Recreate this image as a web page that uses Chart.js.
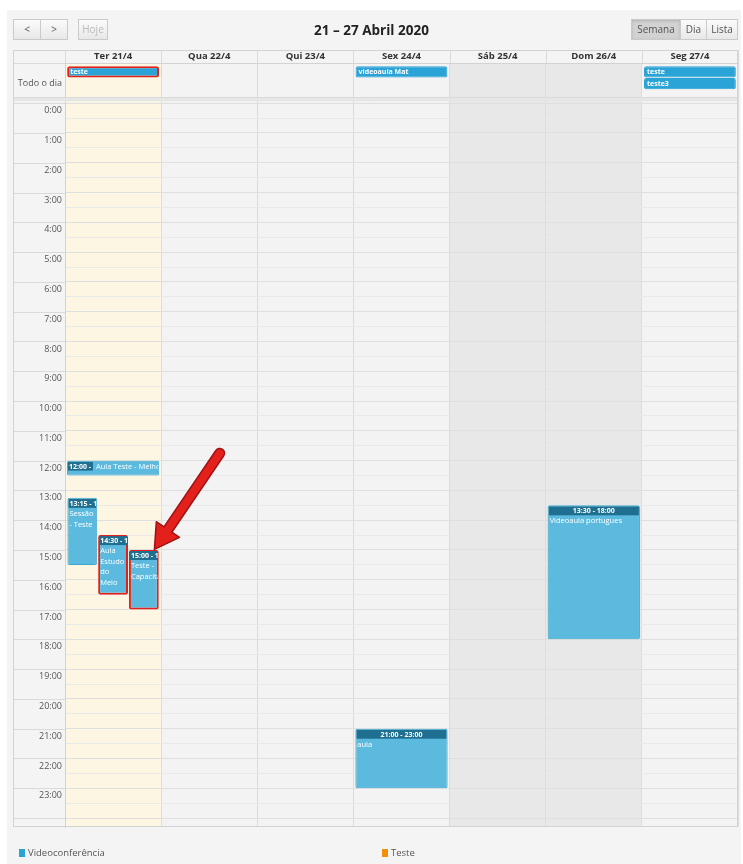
<!DOCTYPE html>
<html lang="pt">
<head>
<meta charset="utf-8">
<script src="https://cdn.jsdelivr.net/npm/chart.js@4.4.1/dist/chart.umd.min.js"></script>
<style>
  html, body { margin: 0; padding: 0; background: #fff; }
  body { width: 743px; height: 864px; position: relative; overflow: hidden; font-family: "Open Sans", sans-serif; }
  #panel { position: absolute; left: 7px; top: 10px; right: 2px; bottom: 0; background: #f4f4f4; }
  #agenda { position: absolute; left: 0; top: 0; }
  .btn { position: absolute; top: 19px; height: 21px; box-sizing: border-box; border: 1px solid #cacaca;
         background: linear-gradient(#fbfbfb, #e8e8e8); font-size: 10px; color: #555; line-height: 19px; text-align: center; }
  .btn.off { color: #bbb; }
  .btn.on { background: #d2d2d2; box-shadow: inset 0 1px 3px rgba(0,0,0,.15); }
  #titulo { position: absolute; top: 19px; left: 0; width: 743px; text-align: center; font-weight: bold; font-size: 13.5px; color: #222; line-height: 22px; }
  .leg { position: absolute; top: 846px; font-size: 9.5px; color: #555; line-height: 14px; }
  .leg i { display: inline-block; width: 6px; height: 8px; margin-right: 3px; vertical-align: -1px; }
</style>
</head>
<body>
<div id="panel"></div>
<canvas id="agenda" width="743" height="864"></canvas>
<div class="btn" style="left:13px;width:28px;">&lt;</div>
<div class="btn" style="left:40px;width:28px;">&gt;</div>
<div class="btn off" style="left:78px;width:30px;">Hoje</div>
<div id="titulo">21 – 27 Abril 2020</div>
<div class="btn on" style="left:631px;width:50px;">Semana</div>
<div class="btn" style="left:680px;width:27px;">Dia</div>
<div class="btn" style="left:706px;width:32px;">Lista</div>
<div class="leg" style="left:19px;"><i style="background:#2aa3d6"></i>Videoconferência</div>
<div class="leg" style="left:382px;"><i style="background:#f0900c"></i>Teste</div>
<script>
// dias da semana (colunas)
const days = ["Ter 21/4", "Qua 22/4", "Qui 23/4", "Sex 24/4", "Sáb 25/4", "Dom 26/4", "Seg 27/4"];
const today = "Ter 21/4";
const weekend = ["Sáb 25/4", "Dom 26/4"];

// rótulos das horas
const hourLabels = ["0:00", "1:00", "2:00", "3:00", "4:00", "5:00", "6:00", "7:00", "8:00", "9:00", "10:00", "11:00",
  "12:00", "13:00", "14:00", "15:00", "16:00", "17:00", "18:00", "19:00", "20:00", "21:00", "22:00", "23:00"];
const allDayLabel = "Todo o dia";

// eventos com horário
const eventDays = ["Ter 21/4", "Ter 21/4", "Ter 21/4", "Ter 21/4", "Sex 24/4", "Dom 26/4"];
const eventStarts = [12, 13.25, 14.5, 15, 21, 13.5];
const eventEnds = [12.5, 15.5, 16.5, 17, 23, 18];
const eventTitles = ["Aula Teste - Melhoria", "Sessão - Teste", "Aula Estudo do Meio", "Teste - Capacitação", "aula", "Videoaula portugues"];
const eventLanes = [null, 0, 1, 2, null, null]; // coluna dentro do dia quando há sobreposição
const eventMarked = [false, false, true, true, false, false];

// eventos de dia inteiro
const allDayDays = ["Ter 21/4", "Sex 24/4", "Seg 27/4", "Seg 27/4"];
const allDayTitles = ["teste", "videoaula Mat", "teste", "teste3"];
const allDayRows = [0, 0, 0, 1];
const allDayMarked = [true, false, false, false];

// seta vermelha (em coordenadas do gráfico)
const arrowFrom = { x: 1.11, y: 11.75 };
const arrowTo = { x: 0.43, y: 14.98 };

const RED = "#e3201b";
const fmt = h => Math.floor(h) + ":" + String(Math.round((h % 1) * 60)).padStart(2, "0");

const allDayData = allDayDays.map((d, i) => ({
  x: d, y: [-1.24 + allDayRows[i] * 0.39, -0.86 + allDayRows[i] * 0.39], i
}));
const fullData = [];
const laneData = [[], [], []];
eventDays.forEach((d, i) => {
  const p = { x: d, y: [eventStarts[i], eventEnds[i]], i };
  if (eventLanes[i] === null) fullData.push(p); else laneData[eventLanes[i]].push(p);
});

const hourTicks = hourLabels.map((l, h) => h);
const tickValues = [-0.93];
for (let h = 0; h <= 24; h += 0.5) tickValues.push(h);

const timedStyle = {
  backgroundColor: "#5bbade",
  borderColor: c => eventMarked[c.raw.i] ? RED : "#3ea6cf",
  borderWidth: c => eventMarked[c.raw.i] ? 2 : 1,
  borderSkipped: false,
  borderRadius: 2,
  kind: "timed"
};

// fundo das colunas, divisórias e moldura
const calendarBg = {
  id: "calendarBg",
  beforeDraw(chart) {
    const { ctx, chartArea: a, scales: { x } } = chart;
    const half = (x.getPixelForValue(1) - x.getPixelForValue(0)) / 2;
    ctx.save();
    ctx.fillStyle = "#f3f3f3";
    ctx.fillRect(a.left, a.top, a.right - a.left, a.bottom - a.top);
    days.forEach((d, i) => {
      let col = null;
      if (d === today) col = "#fcf6e2";
      if (weekend.includes(d)) col = "#e8e8e8";
      if (!col) return;
      const cx = x.getPixelForValue(i);
      ctx.fillStyle = col;
      ctx.fillRect(cx - half, a.top, half * 2, a.bottom - a.top);
    });
    ctx.restore();
  },
  beforeDatasetsDraw(chart) {
    const { ctx, chartArea: a, scales: { x, y } } = chart;
    const frameLeft = 13, frameTop = 50;
    ctx.save();
    // divisória entre "Todo o dia" e grade horária
    const y0 = y.getPixelForValue(0);
    ctx.fillStyle = "#e6e6e6";
    ctx.fillRect(frameLeft, y0 - 6, a.right - frameLeft, 4);
    ctx.strokeStyle = "#dadada";
    ctx.lineWidth = 1;
    ctx.beginPath();
    ctx.moveTo(frameLeft, Math.round(y0 - 6) + 0.5); ctx.lineTo(a.right, Math.round(y0 - 6) + 0.5);
    // linhas das horas na coluna dos rótulos
    hourTicks.concat([24]).forEach(h => {
      const py = Math.round(y.getPixelForValue(h)) + 0.5;
      ctx.moveTo(frameLeft, py); ctx.lineTo(a.left, py);
    });
    ctx.moveTo(frameLeft, a.top + 0.5); ctx.lineTo(a.left, a.top + 0.5);
    // separadores do cabeçalho
    const half = (x.getPixelForValue(1) - x.getPixelForValue(0)) / 2;
    days.forEach((d, i) => {
      const px = Math.round(x.getPixelForValue(i) + half) + 0.5;
      ctx.moveTo(px, frameTop); ctx.lineTo(px, a.top);
    });
    ctx.moveTo(a.left + 0.5, frameTop); ctx.lineTo(a.left + 0.5, a.top);
    ctx.stroke();
    // moldura
    ctx.strokeStyle = "#d3d3d3";
    ctx.strokeRect(frameLeft + 0.5, frameTop + 0.5, a.right - frameLeft - 1, a.bottom - frameTop - 1);
    ctx.restore();
  }
};

function wrapLines(ctx, text, maxW) {
  const words = text.split(" ");
  const lines = [];
  let cur = "";
  words.forEach(w => {
    const t = cur ? cur + " " + w : w;
    if (ctx.measureText(t).width <= maxW || !cur) cur = t;
    else { lines.push(cur); cur = w; }
  });
  if (cur) lines.push(cur);
  return lines;
}

// textos dos eventos e seta
const eventText = {
  id: "eventText",
  afterDatasetsDraw(chart) {
    const { ctx, scales: { x, y } } = chart;
    ctx.save();
    chart.data.datasets.forEach((ds, di) => {
      const meta = chart.getDatasetMeta(di);
      meta.data.forEach((el, j) => {
        const raw = ds.data[j];
        const p = el.getProps(["x", "y", "base", "width"], true);
        const left = p.x - p.width / 2, w = p.width;
        const top = Math.min(p.y, p.base), bottom = Math.max(p.y, p.base);
        ctx.save();
        ctx.beginPath();
        ctx.rect(left + 1, top + 1, w - 2, bottom - top - 2);
        ctx.clip();
        ctx.fillStyle = "#fff";
        ctx.textBaseline = "middle";
        if (ds.kind === "allday") {
          ctx.font = "bold 7px 'Open Sans'";
          ctx.fillText(allDayTitles[raw.i], left + 3, (top + bottom) / 2 + 0.5);
        } else {
          const i = raw.i;
          const h = bottom - top;
          ctx.font = "bold 7px 'Open Sans'";
          if (h < 20) {
            const t = fmt(eventStarts[i]) + " -";
            const tw = ctx.measureText(t).width + 3;
            ctx.fillStyle = "#1f6f90";
            ctx.fillRect(left + 1, top + 1, tw, 9);
            ctx.fillStyle = "#fff";
            ctx.fillText(t, left + 2, top + 6);
            ctx.font = "7.5px 'Open Sans'";
            ctx.fillText(eventTitles[i], left + tw + 4, top + 6);
          } else {
            const t = fmt(eventStarts[i]) + " - " + fmt(eventEnds[i]);
            ctx.fillStyle = "#1f6f90";
            ctx.fillRect(left + 1, top + 1, w - 2, 9);
            ctx.fillStyle = "#fff";
            const tw = ctx.measureText(t).width;
            ctx.fillText(t, tw < w - 6 ? p.x - tw / 2 : left + 2, top + 6);
            ctx.font = "7.5px 'Open Sans'";
            wrapLines(ctx, eventTitles[i], w - 4).forEach((ln, k) => {
              ctx.fillText(ln, left + 2, top + 16 + k * 10.5);
            });
          }
        }
        ctx.restore();
      });
    });

    // seta
    const x1 = x.getPixelForValue(arrowFrom.x), y1 = y.getPixelForValue(arrowFrom.y);
    const x2 = x.getPixelForValue(arrowTo.x), y2 = y.getPixelForValue(arrowTo.y);
    const ang = Math.atan2(y2 - y1, x2 - x1);
    const headLen = 24, headW = 14;
    const bx = x2 - Math.cos(ang) * headLen, by = y2 - Math.sin(ang) * headLen;
    const nx = -Math.sin(ang), ny = Math.cos(ang);
    ctx.lineCap = "round";
    ctx.strokeStyle = "#a01212";
    ctx.lineWidth = 11;
    ctx.beginPath(); ctx.moveTo(x1, y1); ctx.lineTo(bx, by); ctx.stroke();
    ctx.beginPath();
    ctx.moveTo(x2, y2);
    ctx.lineTo(bx + nx * headW, by + ny * headW);
    ctx.lineTo(bx - nx * headW, by - ny * headW);
    ctx.closePath();
    ctx.fillStyle = RED;
    ctx.fill();
    ctx.strokeStyle = "#a01212";
    ctx.lineWidth = 1.5;
    ctx.lineJoin = "round";
    ctx.stroke();
    ctx.strokeStyle = RED;
    ctx.lineWidth = 8;
    ctx.beginPath(); ctx.moveTo(x1, y1); ctx.lineTo(bx + Math.cos(ang) * 3, by + Math.sin(ang) * 3); ctx.stroke();
    ctx.restore();
  }
};

const ctx = document.getElementById("agenda").getContext("2d");

new Chart(ctx, {
  type: "bar",
  data: {
    labels: days,
    datasets: [
      {
        label: allDayLabel,
        data: allDayData,
        grouped: false,
        barPercentage: 1,
        categoryPercentage: 0.955,
        backgroundColor: "#2aa3d6",
        borderColor: c => allDayMarked[c.raw.i] ? RED : "#2aa3d6",
        borderWidth: c => allDayMarked[c.raw.i] ? 2 : 1,
        borderSkipped: false,
        borderRadius: 2,
        kind: "allday"
      },
      Object.assign({ label: "Eventos", data: fullData, grouped: false, barPercentage: 1, categoryPercentage: 0.96 }, timedStyle),
      ...laneData.map((d, k) => Object.assign({ label: "Coluna " + k, data: d, barPercentage: 0.97, categoryPercentage: 0.96 }, timedStyle))
    ]
  },
  options: {
    responsive: false,
    animation: false,
    devicePixelRatio: 1,
    layout: { padding: { left: 13, right: 5, top: 50, bottom: 37 } },
    plugins: { legend: { display: false }, tooltip: { enabled: false } },
    scales: {
      x: {
        type: "category",
        position: "top",
        offset: true,
        afterFit: s => { s.height = 13; },
        grid: { offset: true, color: "#dcdcdc", drawTicks: false },
        border: { color: "#d3d3d3" },
        ticks: { color: "#333", font: { family: "Open Sans", size: 9.5, weight: "bold" }, padding: 1, maxRotation: 0 }
      },
      y: {
        type: "linear",
        reverse: true,
        min: -1.35,
        max: 24.3,
        afterFit: s => { s.width = 52; },
        afterBuildTicks: s => { s.ticks = tickValues.map(v => ({ value: v })); },
        grid: {
          drawTicks: false,
          color: c => {
            const v = c.tick ? c.tick.value : 0;
            if (v < 0) return "rgba(0,0,0,0)";
            return Number.isInteger(v) ? "#dfdfdf" : "#e9e9e9";
          }
        },
        border: { color: "#d3d3d3" },
        ticks: {
          autoSkip: false,
          labelOffset: 7.5,
          padding: 3,
          color: "#555",
          font: { family: "Open Sans", size: 9 },
          callback: v => v < 0 ? allDayLabel : (Number.isInteger(v) && v < 24 ? hourLabels[v] : "")
        }
      }
    }
  },
  plugins: [calendarBg, eventText]
});
</script>
</body>
</html>
